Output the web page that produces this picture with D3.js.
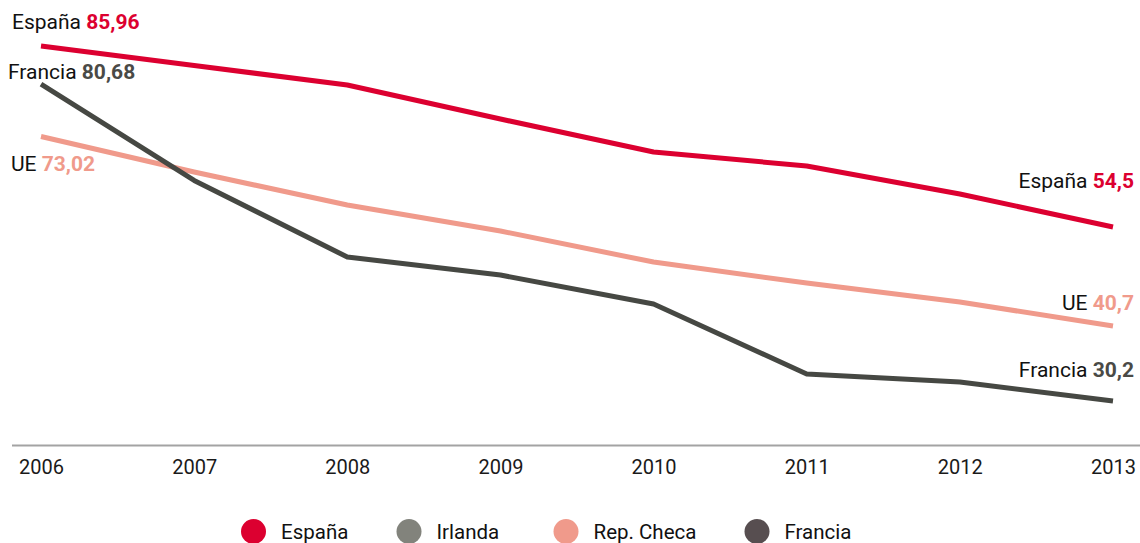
<!DOCTYPE html>
<html>
<head>
<meta charset="utf-8">
<script src="https://cdn.jsdelivr.net/npm/d3@7"></script>
<style>
  html, body { margin: 0; padding: 0; background: #fff; }
  svg { display: block; font-family: Roboto, "Noto Sans", sans-serif; }
</style>
</head>
<body>
<svg id="chart" width="1140" height="543"></svg>
<script>
// ---- data ----
const years = [2006, 2007, 2008, 2009, 2010, 2011, 2012, 2013];
const espana  = [85.96, 82.57, 79.18, 73.27, 67.54, 65.10, 60.23, 54.50];
const francia = [79.35, 62.6, 49.28, 46.15, 41.11, 28.95, 27.56, 24.25];
const ue      = [70.23, 64.06, 58.32, 53.80, 48.41, 44.76, 41.46, 37.29];

const seriesNames  = ["España", "Francia", "UE"];
const startLabels  = ["85,96", "80,68", "73,02"];
const endLabels    = ["54,5", "30,2", "40,7"];
const legendNames  = ["España", "Irlanda", "Rep. Checa", "Francia"];

// ---- styles / layout ----
const colors = { "España": "#dc0030", "Francia": "#464843", "UE": "#f09a8b" };
const valueColors = { "España": "#dc0030", "Francia": "#4a4a46", "UE": "#f09a8b" };
const legendColors = ["#dc0030", "#82837c", "#f09a8b", "#574e50"];
const legendCircleX = [253.5, 409, 566, 757];
const startLabelLayout = { "España": { x: 12, dy: -17 }, "Francia": { x: 8, dy: -5 }, "UE": { x: 11, dy: 34.5 } };
const endLabelLayout   = { "España": { dy: -39 }, "Francia": { dy: -24 }, "UE": { dy: -16 } };

const svg = d3.select("#chart");

const x = d3.scalePoint().domain(years).range([41, 1113]);
const y = d3.scaleLinear().domain([20, 90]).range([425.5, 22.76]);

// axis
const axis = d3.axisBottom(x).tickSize(0).tickPadding(0).tickFormat(d3.format("d"));
const gAxis = svg.append("g").attr("transform", "translate(0,445.5)").call(axis);
gAxis.select(".domain").remove();
svg.append("line")
  .attr("x1", 12).attr("x2", 1140).attr("y1", 445.5).attr("y2", 445.5)
  .attr("stroke", "#a3a3a3").attr("stroke-width", 2);
gAxis.selectAll("text")
  .attr("y", 28).attr("dy", 0)
  .attr("font-size", 20).attr("fill", "#1a1a1a")
  .attr("font-family", "Roboto, sans-serif");
gAxis.selectAll(".tick line").remove();

// lines
const seriesData = { "España": espana, "Francia": francia, "UE": ue };
const line = d3.line().x((d, i) => x(years[i])).y(d => y(d));
const drawOrder = ["UE", "Francia", "España"];
drawOrder.forEach(name => {
  svg.append("path")
    .datum(seriesData[name])
    .attr("fill", "none")
    .attr("stroke", colors[name])
    .attr("stroke-width", 5)
    .attr("stroke-linejoin", "round")
    .attr("d", line);
});

// labels
seriesNames.forEach((name, i) => {
  const vals = seriesData[name];
  const sl = startLabelLayout[name];
  const t1 = svg.append("text")
    .attr("x", sl.x)
    .attr("y", y(vals[0]) + sl.dy)
    .attr("font-size", 21).attr("fill", "#111");
  t1.append("tspan").text(name + " ");
  t1.append("tspan").attr("font-weight", "bold").attr("fill", valueColors[name]).text(startLabels[i]);

  const el = endLabelLayout[name];
  const t2 = svg.append("text")
    .attr("x", 1134)
    .attr("y", y(vals[vals.length - 1]) + el.dy)
    .attr("text-anchor", "end")
    .attr("font-size", 21).attr("fill", "#111");
  t2.append("tspan").text(name + " ");
  t2.append("tspan").attr("font-weight", "bold").attr("fill", valueColors[name]).text(endLabels[i]);
});

// legend
const legend = svg.append("g");
legendNames.forEach((name, i) => {
  legend.append("circle")
    .attr("cx", legendCircleX[i]).attr("cy", 531.5).attr("r", 12.5)
    .attr("fill", legendColors[i]);
  legend.append("text")
    .attr("x", legendCircleX[i] + 27.5).attr("y", 538.5)
    .attr("font-size", 20.5).attr("fill", "#111")
    .text(name);
});
</script>
</body>
</html>
